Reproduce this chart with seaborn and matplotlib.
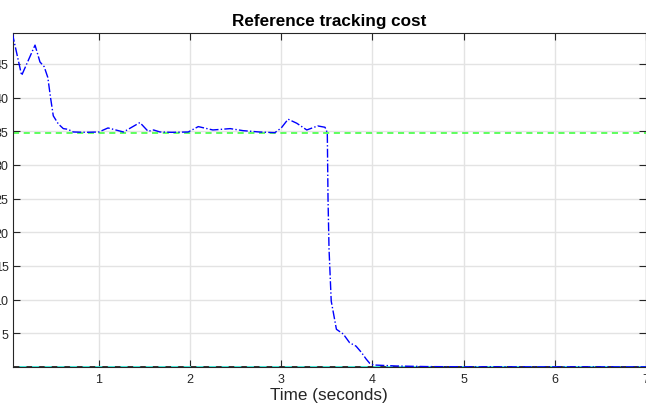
import numpy as np
import pandas as pd
import matplotlib
matplotlib.use("Agg")
import matplotlib.pyplot as plt
import seaborn as sns

# Data
time_s = [0.05, 0.153, 0.30, 0.354, 0.40, 0.44, 0.47, 0.50, 0.555, 0.61, 0.66, 0.72,
          0.85, 1.0, 1.10, 1.27, 1.45, 1.54, 1.60, 1.67, 1.80, 1.98, 2.09, 2.25, 2.44,
          2.58, 2.76, 2.93, 3.00, 3.075, 3.17, 3.28, 3.40, 3.48, 3.505, 3.513, 3.524,
          3.548, 3.605, 3.68, 3.75, 3.82, 3.88, 3.93, 3.97, 4.01, 4.26, 4.6, 5.0, 6.0, 7.0]
cost = [49.6, 43.3, 47.8, 45.3, 44.6, 43.0, 40.0, 37.3, 36.1, 35.4, 35.3, 34.9,
        34.85, 34.9, 35.5, 34.9, 36.3, 35.0, 35.2, 34.9, 34.85, 34.9, 35.7, 35.2, 35.4,
        35.1, 34.9, 34.8, 35.5, 36.8, 36.2, 35.2, 35.8, 35.6, 34.8, 24.9, 17.5,
        9.8, 5.6, 4.9, 3.6, 3.1, 2.15, 1.2, 0.55, 0.3, 0.15, 0.06, 0.03, 0.02, 0.02]
ref_level = 34.8
zero_level = 0.0
x_ticks = [1, 2, 3, 4, 5, 6, 7]
y_ticks = [5, 10, 15, 20, 25, 30, 35, 40, 45]

df = pd.DataFrame({"Time": time_s, "Cost": cost})

sns.set_style("white")
plt.rcParams["font.family"] = ["Liberation Sans", "DejaVu Sans"]

fig = plt.figure(figsize=(6.46, 4.06), dpi=100)
ax = fig.add_axes([12.7 / 646, 1 - 368 / 406, (646 - 12.7) / 646, (368 - 34) / 406])

ax.axhline(ref_level, color="#33ff33", linestyle=(0, (4, 3)), lw=1.1, zorder=2)
ax.axhline(zero_level, color="#222222", linestyle=(0, (4, 3)), lw=1.3, zorder=2)
ax.axhline(zero_level, color="#33eedd", linestyle=(3.5, (4, 3)), lw=1.3, zorder=2)
sns.lineplot(data=df, x="Time", y="Cost", ax=ax, color="#0000ff",
             linestyle="-.", lw=1.0, zorder=3, estimator=None, sort=False)

ax.set_xlim(0.055, 7.0)
ax.set_ylim(0, 49.6)
ax.set_xticks(x_ticks)
ax.set_yticks(y_ticks)
ax.set_xticklabels([str(v) for v in x_ticks])
ax.set_yticklabels([str(v) for v in y_ticks])
ax.grid(True, color="#e3e3e3", lw=1.0)
ax.set_axisbelow(True)
ax.tick_params(direction="in", length=5, width=0.8, colors="#262626",
               labelsize=9, top=True, right=True, bottom=True, left=True,
               labelcolor="#262626")
ax.tick_params(axis="x", pad=4)
ax.tick_params(axis="y", pad=3)
for s in ax.spines.values():
    s.set_visible(True)
    s.set_color("#262626")
    s.set_linewidth(0.8)

ax.set_xlabel("Time (seconds)", fontsize=12.3, color="#262626", labelpad=2)
ax.set_ylabel("")
ax.set_title("Reference tracking cost", fontsize=12.3, fontweight="bold",
             color="black", pad=6)

fig.savefig("out.png", dpi=100)
